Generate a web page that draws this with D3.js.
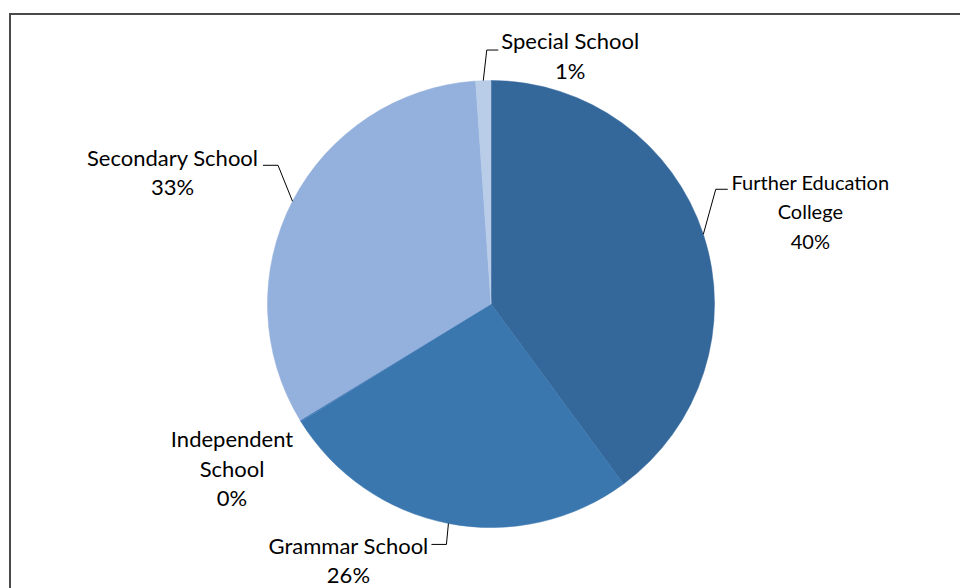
<!DOCTYPE html>
<html>
<head>
<meta charset="utf-8">
<script src="https://cdn.jsdelivr.net/npm/d3@7"></script>
<style>
  html, body { margin: 0; padding: 0; background: #fff; }
  svg { display: block; }
  text { font-family: Lato, "Open Sans", sans-serif; fill: #000; }
</style>
</head>
<body>
<svg id="chart" width="960" height="588"></svg>
<script>
// School type shares (percent of pupils)
const categories = ["Further Education College", "Grammar School", "Independent School", "Secondary School", "Special School"];
const values = [39.9, 26.3, 0.1, 32.6, 1.1];
const labelLines = [["Further Education", "College"], ["Grammar School"], ["Independent", "School"], ["Secondary School"], ["Special School"]];
const colors = ["#34679A", "#3A77AE", "#4A7EBB", "#93B1DC", "#B9CDE9"];

const width = 960, height = 588;
const cx = 491, cy = 304, radius = 223.5;
const lineGap = 29.5;

// Label placement relative to the slice's outer mid-point:
// text = centre of first line, elbow/end = leader line bends (null = no leader)
const labelLayout = [
  { text: [107, -52], elbow: [12.4, -45], end: [24.4, -45], size: 20 },
  { text: [-100, 23], elbow: [-2, 21], end: [-17, 21], size: 22 },
  { text: [-68.4, 19], elbow: null, end: null, size: 22 },
  { text: [-120, -43], elbow: [-14.5, -36], end: [-29.5, -36], size: 22 },
  { text: [87, -39], elbow: [3.5, -30.6], end: [15, -30.6], size: 22 }
];

const svg = d3.select("#chart");

// chart frame (top and left edges visible)
svg.append("rect")
  .attr("x", 10).attr("y", 14)
  .attr("width", 2000).attr("height", 2000)
  .attr("fill", "none")
  .attr("stroke", "#4a4a4a")
  .attr("stroke-width", 2);

const data = categories.map((c, i) => ({ name: c, value: values[i], lines: labelLines[i], color: colors[i], layout: labelLayout[i] }));
const total = d3.sum(values);

const pie = d3.pie().value(d => d.value).sort(null);
const arcs = pie(data);
const arc = d3.arc().innerRadius(0).outerRadius(radius);

const g = svg.append("g").attr("transform", `translate(${cx},${cy})`);

g.selectAll("path.slice")
  .data(arcs)
  .join("path")
  .attr("class", "slice")
  .attr("d", arc)
  .attr("fill", d => d.data.color)
  .attr("stroke", d => d.data.color)
  .attr("stroke-width", 0.5);

const pct = d3.format(".0%");

arcs.forEach(a => {
  const mid = (a.startAngle + a.endAngle) / 2;
  const ex = radius * Math.sin(mid), ey = -radius * Math.cos(mid);
  const L = a.data.layout;
  if (L.elbow) {
    g.append("polyline")
      .attr("points", [[ex, ey], [ex + L.elbow[0], ey + L.elbow[1]], [ex + L.end[0], ey + L.end[1]]].map(p => p.join(",")).join(" "))
      .attr("fill", "none")
      .attr("stroke", "#000")
      .attr("stroke-width", 1);
  }
  const lines = a.data.lines.concat([pct(a.data.value / total)]);
  const t = g.append("text")
    .attr("text-anchor", "middle")
    .attr("font-size", L.size);
  lines.forEach((ln, k) => {
    t.append("tspan")
      .attr("x", ex + L.text[0])
      .attr("y", ey + L.text[1] + 7.5 + k * lineGap)
      .text(ln);
  });
});
</script>
</body>
</html>
